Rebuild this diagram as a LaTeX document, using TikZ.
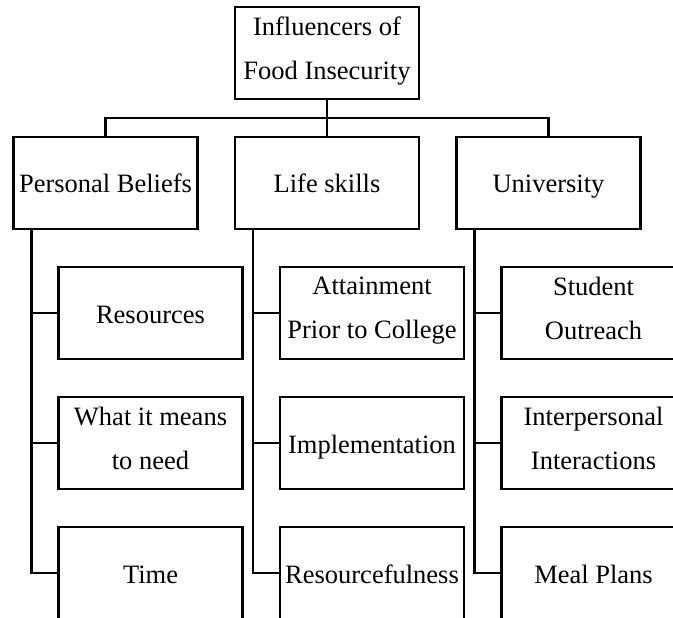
\documentclass[tikz,border=0pt]{standalone}
\usepackage{fontspec}
\setmainfont{Liberation Serif}
\usepackage{tikz}
\usetikzlibrary{positioning}
\newcommand{\boxstrut}{\rule[-10pt]{0pt}{40pt}}

\begin{document}
\begin{tikzpicture}[node distance=38pt,
  line width=2.5pt,
  box/.style={draw,rectangle,inner sep=0pt,outer sep=0pt,minimum width=184pt,minimum height=92pt,align=center,
    execute at begin node=\boxstrut,execute at end node=\boxstrut},
  font=\fontsize{26.5pt}{44pt}\selectfont]
  \useasboundingbox (0,0) rectangle (673pt,-618pt);
  % top of the tree
  \node[box] (root) at (327pt,-53pt) {Influencers of\\Food Insecurity};
  \node[box,below=38pt of root] (ls) {Life skills};
  \node[box,left=37.5pt of ls] (pb) {Personal Beliefs};
  \node[box,right=37.5pt of ls] (uni) {University};
  \coordinate (bus) at ([yshift=-19pt]root.south);
  \draw (root.south) -- (bus);
  \draw (pb.north) |- (bus) -| (uni.north);
  \draw (bus) -- (ls.north);

  % personal beliefs
  \node[box,below=38pt of pb.south west,anchor=north west,xshift=45pt] (res) {Resources};
  \node[box,below=of res] (need) {What it means\\to need};
  \node[box,below=of need] (time) {Time};
  % life skills
  \node[box,below=38pt of ls.south west,anchor=north west,xshift=45pt] (att) {Attainment\\Prior to College};
  \node[box,below=of att] (impl) {Implementation};
  \node[box,below=of impl] (rsf) {Resourcefulness};
  % university
  \node[box,below=38pt of uni.south west,anchor=north west,xshift=45pt] (out) {Student\\Outreach};
  \node[box,below=of out] (inter) {Interpersonal\\Interactions};
  \node[box,below=of inter] (meal) {Meal Plans};

  % rails
  \coordinate (pbrail) at ([xshift=18pt]pb.south west);
  \coordinate (lsrail) at ([xshift=18pt]ls.south west);
  \coordinate (unirail) at ([xshift=18pt]uni.south west);
  \draw (pbrail) |- (time.west);
  \draw (pbrail |- res.west) -- (res.west);
  \draw (pbrail |- need.west) -- (need.west);
  \draw (lsrail) |- (rsf.west);
  \draw (lsrail |- att.west) -- (att.west);
  \draw (lsrail |- impl.west) -- (impl.west);
  \draw (unirail) |- (meal.west);
  \draw (unirail |- out.west) -- (out.west);
  \draw (unirail |- inter.west) -- (inter.west);
\end{tikzpicture}
\end{document}
